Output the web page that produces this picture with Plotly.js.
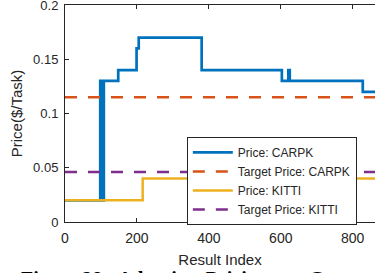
<!DOCTYPE html>
<html>
<head>
<meta charset="utf-8">
<script src="https://cdn.plot.ly/plotly-3.0.1.min.js"></script>
<style>html,body{margin:0;padding:0;background:#fff;}#chart{width:375px;height:273px;}</style>
</head>
<body>
<div id="chart"></div>
<script>
// Price: CARPK (step, hv)
const carpkX = [0, 98, 99, 100, 101, 102, 103, 104, 105, 106, 107, 108, 148, 199, 205, 380, 603, 621, 625, 828, 870];
const carpkY = [0.02, 0.13, 0.02, 0.13, 0.02, 0.13, 0.02, 0.13, 0.02, 0.13, 0.02, 0.13, 0.14, 0.16, 0.17, 0.14, 0.13, 0.14, 0.13, 0.12, 0.12];
// Price: KITTI (step, hv)
const kittiX = [0, 216, 870];
const kittiY = [0.02, 0.04, 0.04];
// Targets
const targetX = [0, 870];
const targetCarpk = [0.115, 0.115];
const targetKitti = [0.046, 0.046];
const names = ['Price: CARPK', 'Target Price: CARPK', 'Price: KITTI', 'Target Price: KITTI'];
const xTicks = [0, 200, 400, 600, 800];
const yTicks = [0, 0.05, 0.1, 0.15, 0.2];
const yTickText = ['0', '0.05', '0.1', '0.15', '0.2'];

const FONT = 'Liberation Sans, Arial, sans-serif';
const INK = '#262626';

const traces = [
  {x: carpkX, y: carpkY, name: names[0], mode: 'lines', line: {color: '#0072BD', width: 2.7, shape: 'hv'}},
  {x: targetX, y: targetCarpk, name: names[1], mode: 'lines', line: {color: '#D95319', width: 2.5, dash: '12px,11px'}},
  {x: kittiX, y: kittiY, name: names[2], mode: 'lines', line: {color: '#EDB120', width: 2.5, shape: 'hv'}},
  {x: targetX, y: targetKitti, name: names[3], mode: 'lines', line: {color: '#7E2F8E', width: 2.5, dash: '12px,11px'}}
];

const layout = {
  width: 375, height: 273,
  margin: {l: 65, r: 0, t: 5, b: 51},
  paper_bgcolor: '#fff', plot_bgcolor: '#fff',
  showlegend: true,
  font: {family: FONT, color: INK},
  xaxis: {
    range: [0, 862], tickvals: xTicks, ticktext: xTicks.map(String),
    ticks: 'inside', ticklen: 4, tickcolor: INK, showline: true, linecolor: INK, linewidth: 1,
    mirror: 'ticks', showgrid: false, zeroline: false, ticklabelstandoff: 3,
    tickfont: {size: 14, family: FONT, color: INK},
    title: {text: 'Result Index', font: {size: 15, family: FONT, color: INK}, standoff: 9}
  },
  yaxis: {
    range: [0, 0.2], tickvals: yTicks, ticktext: yTickText,
    ticks: 'inside', ticklen: 4, tickcolor: INK, showline: true, linecolor: INK, linewidth: 1,
    mirror: false, showgrid: false, zeroline: false, ticklabeloverflow: 'allow', ticklabelstandoff: 3,
    tickfont: {size: 13, family: FONT, color: INK},
    title: {text: 'Price($/Task)', font: {size: 15, family: FONT, color: INK}, standoff: 6}
  },
  legend: {
    x: 0.393, y: 0.392, xanchor: 'left', yanchor: 'top',
    bgcolor: '#fff', bordercolor: INK, borderwidth: 1,
    font: {size: 12, family: FONT, color: INK},
    itemwidth: 40, tracegroupgap: 0
  },
  annotations: [{
    text: '<b>Figure 28:  Adaptive  Pricing  on  C</b>',
    xref: 'paper', yref: 'paper', x: -0.15, y: -0.205, xanchor: 'left', yanchor: 'top',
    showarrow: false, font: {family: 'Liberation Serif, Times New Roman, serif', size: 20, color: '#000'}
  }]
};

Plotly.newPlot('chart', traces, layout, {displayModeBar: false, staticPlot: true});
</script>
</body>
</html>
